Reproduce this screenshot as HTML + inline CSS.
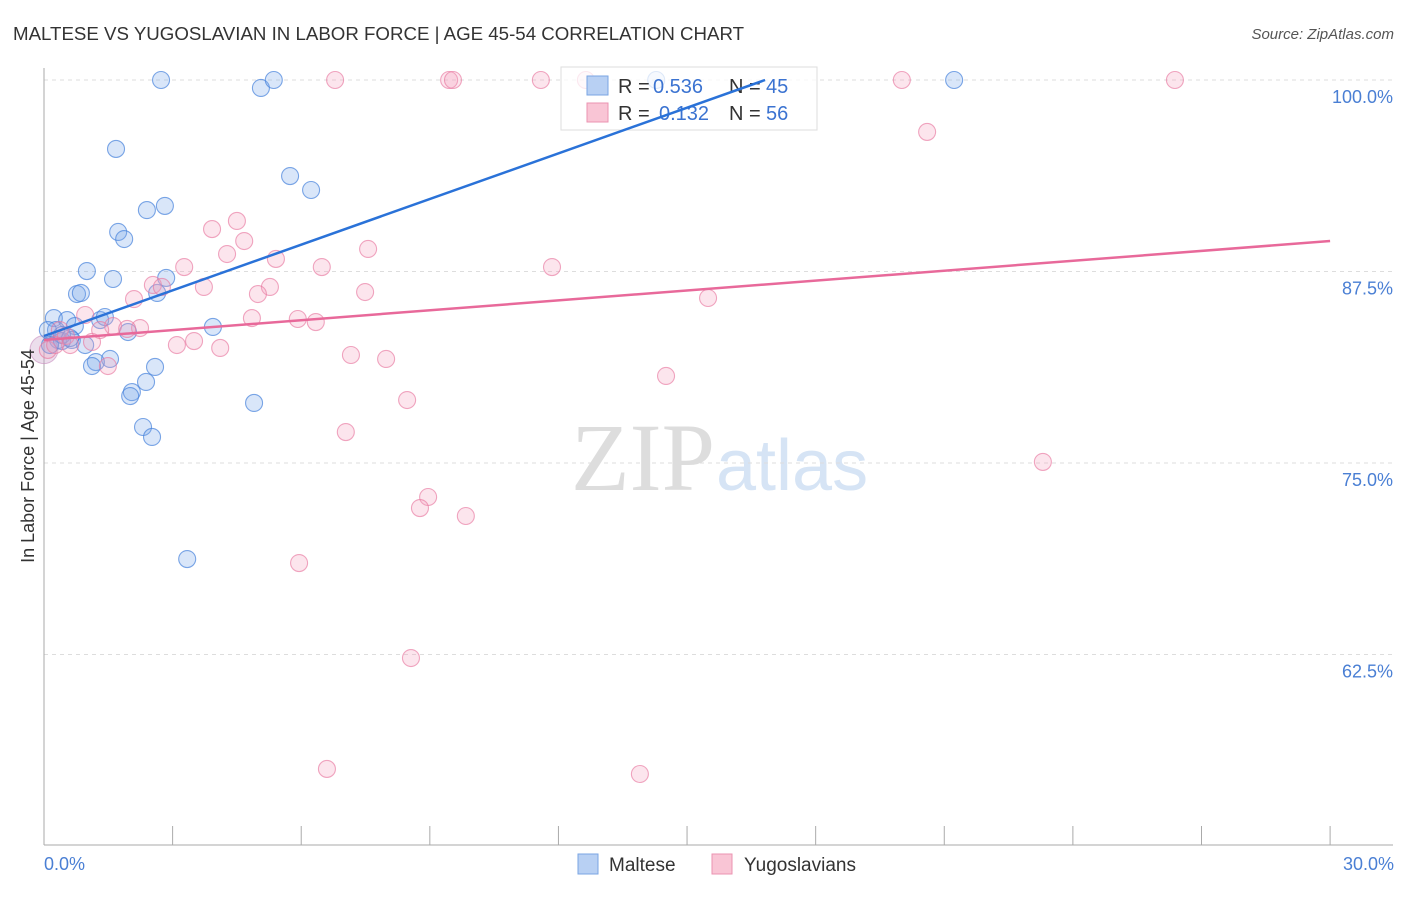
<!DOCTYPE html>
<html><head><meta charset="utf-8"><style>
body{margin:0;background:#fff;font-family:"Liberation Sans",sans-serif}
</style></head><body>
<svg id="chart" width="1406" height="892" xmlns="http://www.w3.org/2000/svg" font-family="Liberation Sans, sans-serif">
<text x="13" y="40" font-size="18.7" fill="#333">MALTESE VS YUGOSLAVIAN IN LABOR FORCE | AGE 45-54 CORRELATION CHART</text>
<text x="1394" y="39" font-size="15" fill="#555" text-anchor="end" font-style="italic">Source: ZipAtlas.com</text>
<text x="715" y="490" font-size="96" text-anchor="end" fill="#ddd" font-family="Liberation Serif, serif">ZIP</text>
<text x="716" y="490" font-size="72" fill="#d6e4f5">atlas</text>
<g id="grid"></g><g id="axes"></g><g id="pts"></g>
<g>
<rect x="561" y="67" width="256" height="63" fill="rgba(255,255,255,0.75)" stroke="#ddd"/>
<rect x="587" y="76" width="21" height="19" fill="#b8d0f3" stroke="#7aa5e3"/>
<rect x="587" y="103" width="21" height="19" fill="#f9c5d5" stroke="#eb93b1"/>
<text x="618" y="93" font-size="20" fill="#333">R =</text>
<text x="653" y="93" font-size="20" fill="#3b73d1">0.536</text>
<text x="729" y="93" font-size="20" fill="#333">N =</text>
<text x="766" y="93" font-size="20" fill="#3b73d1">45</text>
<text x="618" y="120" font-size="20" fill="#333">R =</text>
<text x="659" y="120" font-size="20" fill="#3b73d1">0.132</text>
<text x="729" y="120" font-size="20" fill="#333">N =</text>
<text x="766" y="120" font-size="20" fill="#3b73d1">56</text>
</g>
<g id="lines"></g>
<text transform="translate(34,456) rotate(-90)" font-size="18" fill="#333" text-anchor="middle">In Labor Force | Age 45-54</text>
<text x="44" y="870" font-size="18" fill="#4a7fd4">0.0%</text>
<text x="1394" y="870" font-size="18" fill="#4a7fd4" text-anchor="end">30.0%</text>
<g>
<rect x="578" y="854" width="20" height="20" fill="#b8d0f3" stroke="#7aa5e3"/>
<text x="609" y="871" font-size="19" fill="#333">Maltese</text>
<rect x="712" y="854" width="20" height="20" fill="#f9c5d5" stroke="#eb93b1"/>
<text x="744" y="871" font-size="19" fill="#333">Yugoslavians</text>
</g>
</svg>
<script>
const blueX=[2.73,5.06,5.36,14.28,21.23,1.68,5.74,6.23,2.40,2.82,1.73,1.87,1.00,1.61,2.85,0.77,0.86,2.64,0.23,0.54,0.72,1.31,1.42,1.96,3.94,0.28,0.33,0.42,0.65,0.96,1.54,1.21,1.12,2.59,2.38,2.05,2.01,4.90,2.31,2.52,3.34,0.14,0.09,0.42,0.61];
const blueY=[100,99.48,100,100,100,95.5,93.73,92.82,91.51,91.78,90.08,89.62,87.53,87.01,87.08,86.03,86.1,86.1,84.46,84.33,83.94,84.33,84.53,83.55,83.88,83.68,83.03,82.96,83.03,82.7,81.79,81.59,81.33,81.27,80.29,79.63,79.37,78.92,77.35,76.7,68.73,82.7,83.68,83.36,83.16];
const pinkX=[6.79,9.45,9.54,11.59,12.64,20.01,26.38,20.60,4.50,3.92,4.67,7.56,4.27,5.41,3.27,6.48,11.85,2.54,3.73,5.27,7.49,4.99,2.10,2.75,15.49,0.96,4.85,5.92,6.34,1.61,2.24,1.94,1.12,3.10,3.50,4.11,7.16,7.98,1.49,14.51,8.47,7.04,23.30,8.96,8.77,9.84,5.95,8.56,6.60,13.90,0.09,0.37,0.51,1.31,0.26,0.61];
const pinkY=[100,100,100,100,100,100,100,96.61,90.8,90.27,89.49,88.97,88.64,88.32,87.79,87.79,87.79,86.62,86.49,86.49,86.16,86.03,85.7,86.49,85.77,84.66,84.46,84.4,84.2,83.94,83.81,83.75,82.9,82.7,82.96,82.51,82.05,81.79,81.33,80.68,79.11,77.02,75.07,72.78,72.06,71.54,68.47,62.27,55.03,54.7,82.38,83.68,83.29,83.68,82.7,82.7];
const blueTrend=[83.29,100,16.82];
const pinkTrend=[83.03,89.49,30];
const yTicks=[100,87.5,75,62.5];
const yTickLabels=["100.0%","87.5%","75.0%","62.5%"];
const xTicks=[0,3,6,9,12,15,18,21,24,27,30];
const NS="http://www.w3.org/2000/svg";
const sx=v=>44+v*42.87, sy=v=>80+(100-v)*15.32;
function mk(p,t,a){const e=document.createElementNS(NS,t);for(const k in a)e.setAttribute(k,a[k]);document.getElementById(p).appendChild(e);return e;}
yTicks.forEach((t,i)=>{
 const g=mk('grid','line',{x1:44,x2:1393,y1:sy(t),y2:sy(t),stroke:'#ddd','stroke-dasharray':'4,4'});
 
 
 const l=mk('grid','text',{x:1393,y:sy(t)+23,'font-size':18,fill:'#4a7fd4','text-anchor':'end'});l.textContent=yTickLabels[i];
 
 
});
const ax=mk('axes','line',{x1:44,x2:1393,y1:845,y2:845,stroke:'#aaa'});


const ay=mk('axes','line',{x1:44,x2:44,y1:68,y2:845,stroke:'#aaa'});


xTicks.forEach(t=>{const e=mk('axes','line',{x1:sx(t),x2:sx(t),y1:826,y2:845,stroke:'#aaa'});
 
 });
const big=mk('pts','circle',{cx:sx(0),cy:sy(82.4),r:14,fill:'rgba(200,160,200,0.35)',stroke:'rgba(200,140,190,0.6)'});


blueX.forEach((x,i)=>{const c=mk('pts','circle',{cx:sx(x),cy:sy(blueY[i]),r:8.5,fill:'rgba(120,165,235,0.28)',stroke:'rgba(70,130,220,0.7)','stroke-width':1.1});
 
 });
pinkX.forEach((x,i)=>{const c=mk('pts','circle',{cx:sx(x),cy:sy(pinkY[i]),r:8.5,fill:'rgba(245,160,190,0.28)',stroke:'rgba(232,120,160,0.65)','stroke-width':1.1});
 
 });
const bl=mk('lines','line',{x1:sx(0),y1:sy(blueTrend[0]),x2:sx(blueTrend[2]),y2:sy(blueTrend[1]),stroke:'#2a72d8','stroke-width':2.5});


const pl=mk('lines','line',{x1:sx(0),y1:sy(pinkTrend[0]),x2:sx(pinkTrend[2]),y2:sy(pinkTrend[1]),stroke:'#e8699a','stroke-width':2.5});


</script>
</body></html>
